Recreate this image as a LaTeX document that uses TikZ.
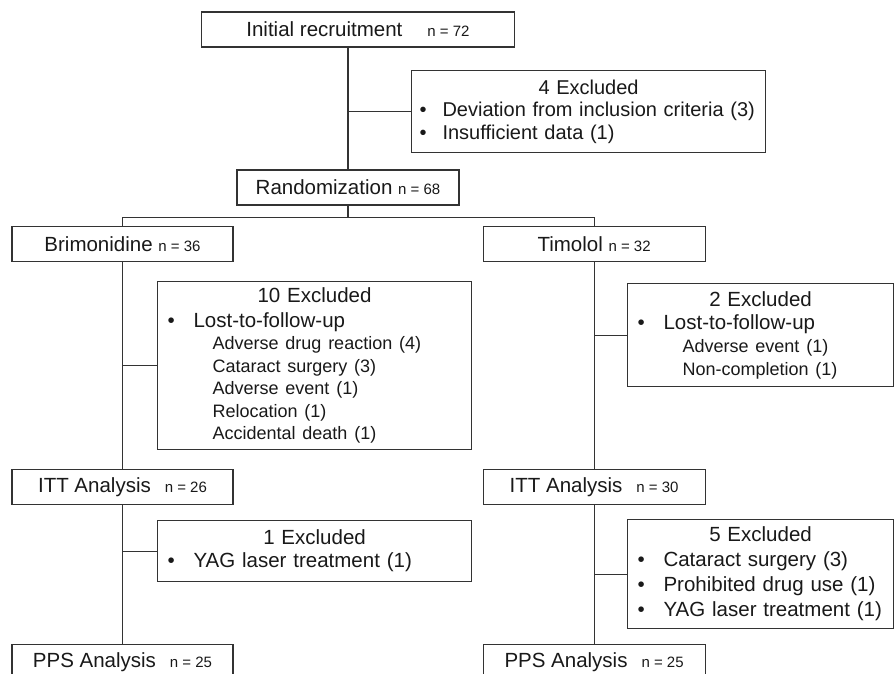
\documentclass[tikz,border=0pt]{standalone}
\usepackage{fontspec}
\setmainfont{Liberation Sans}
\usetikzlibrary{positioning}

\newcommand{\nval}[1]{{\fontsize{15}{18}\selectfont #1}}
\newcommand{\hdr}[1]{\makebox[\hsize]{#1}}
\newcommand{\bul}[2][26pt]{\makebox[#1][l]{\textbullet}#2}
\newcommand{\subitm}[1]{\hspace*{45pt}{\fontsize{18}{22}\selectfont #1}}

\begin{document}
\begin{tikzpicture}[x=1pt, y=-1pt, line width=1.1pt,
  every node/.style={font=\fontsize{20.5}{23}\selectfont, text=black!90},
  box/.style={draw=black!80, minimum height=35pt, inner sep=0pt},
  exbox/.style={draw=black!80, anchor=north west, inner xsep=10pt, inner ysep=0pt, align=left},
  link/.style={draw=black!80}]
\useasboundingbox (0,0) rectangle (895,673);
\clip (0,0) rectangle (895,673);
\fill[white] (0,0) rectangle (895,673);

\node[box, minimum width=313pt] (init) at (358,29.5) {Initial recruitment\hspace{25pt}\nval{n = 72}};
\node[box, minimum width=222pt] (rand) at (348,187.5) {Randomization \nval{n = 68}};
\node[box, minimum width=221pt] (brim) at (122.5,244) {Brimonidine \nval{n = 36}};
\node[box, minimum width=222pt, right=249pt of brim] (tim) {Timolol \nval{n = 32}};
\node[box, minimum width=221pt, below=207pt of brim] (ittL) {ITT Analysis\hspace{14pt}\nval{n = 26}};
\node[box, minimum width=222pt, right=249pt of ittL] (ittR) {ITT Analysis\hspace{14pt}\nval{n = 30}};
\node[box, minimum width=221pt, below=139pt of ittL] (ppsL) {PPS Analysis\hspace{14pt}\nval{n = 25}};
\node[box, minimum width=222pt, right=249pt of ppsL] (ppsR) {PPS Analysis\hspace{14pt}\nval{n = 25}};

\node[exbox, inner xsep=8pt, text width=338pt, minimum height=82pt, font=\fontsize{20}{22.5}\selectfont] (ex0) at (411,70)
  {\hdr{4 Excluded}\\ \bul[23pt]{Deviation from inclusion criteria (3)}\\ \bul[23pt]{Insufficient data (1)}};
\node[exbox, text width=294pt, minimum height=168pt, font=\fontsize{20.5}{22.5}\selectfont] (ex1) at (157,281)
  {\hdr{10 Excluded}\\[2pt] \bul{Lost-to-follow-up}\\ \subitm{Adverse drug reaction (4)}\\ \subitm{Cataract surgery (3)}\\
   \subitm{Adverse event (1)}\\ \subitm{Relocation (1)}\\ \subitm{Accidental death (1)}};
\node[exbox, text width=246pt, minimum height=103pt] (ex2) at (627,283)
  {\hdr{2 Excluded}\\ \bul{Lost-to-follow-up}\\ \subitm{Adverse event (1)}\\ \subitm{Non-completion (1)}};
\node[exbox, text width=294pt, minimum height=61pt] (ex3) at (157,520)
  {\hdr{1 Excluded}\\ \bul{YAG laser treatment (1)}};
\node[exbox, text width=246pt, minimum height=109pt, font=\fontsize{20.5}{25}\selectfont] (ex4) at (627,519)
  {\hdr{5 Excluded}\\ \bul{Cataract surgery (3)}\\ \bul{Prohibited drug use (1)}\\ \bul{YAG laser treatment (1)}};

\coordinate[below=12pt of rand.south] (split);

\draw[link] (init.south -| rand.north) -- (rand.north);
\draw[link] (ex0.west) -- (ex0.west -| rand.north);
\draw[link] (rand.south) -- (split);
\draw[link] (brim.north) |- (split) -| (tim.north);
\draw[link] (brim.south) -- (ittL.north);
\draw[link] (ittL.south) -- (ppsL.north);
\draw[link] (tim.south) -- (ittR.north);
\draw[link] (ittR.south) -- (ppsR.north);
\draw[link] (ex1.west) -- (ex1.west -| brim.south);
\draw[link] (ex2.west) -- (ex2.west -| tim.south);
\draw[link] (ex3.west) -- (ex3.west -| ittL.south);
\draw[link] (ex4.west) -- (ex4.west -| ittR.south);
\end{tikzpicture}
\end{document}
